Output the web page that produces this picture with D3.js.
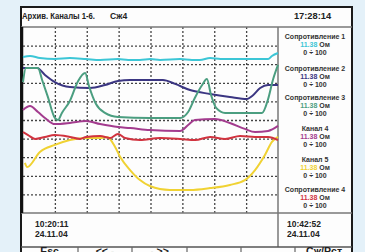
<!DOCTYPE html>
<html><head><meta charset="utf-8">
<script src="https://cdn.jsdelivr.net/npm/d3@7"></script>
<style>
html,body{margin:0;padding:0;background:#e4f1f9;}
svg{display:block;font-family:"Liberation Sans",Arial,sans-serif;}
</style></head>
<body>
<script>
// ---- data (t in grid divisions 0..8, v in 0..100) ----
const titleMain = "Архив. Каналы 1-6.";
const titleMode = "Сж4";
const clock = "17:28:14";
const startTime = ["10:20:11", "24.11.04"];
const endTime = ["10:42:52", "24.11.04"];
const buttons = ["Esc", "<< -", "- >>", "\u2190", "\u2192", "Сж/Рст"];
const channelNames = ["Сопротивление 1", "Сопротивление 2", "Сопротивление 3", "Канал 4", "Канал 5", "Сопротивление 4"];
const channelValues = ["11.38", "11.38", "11.38", "11.38", "11.38", "11.38"];
const channelUnit = "Ом";
const channelRange = "0 ÷ 100";
const channelColors = ["#3cc6d6", "#3b3682", "#4b9e80", "#a33c8e", "#f0d233", "#d1333f"];

const cyan = [[0,83.9],[0.22,84.4],[0.53,83.3],[1.0,82.8],[1.47,83.3],[1.98,82.8],[2.42,82.3],[2.98,82.8],[3.3,82.3],[3.67,82.3],[4.0,82.8],[4.3,82.3],[4.93,82.8],[5.3,82.3],[5.55,82.3],[5.87,83.3],[6.2,82.8],[6.49,82.8],[7.12,82.8],[7.69,82.8],[7.81,84.4],[8,86.0]];
const navy = [[0,78.0],[0.44,78.0],[0.69,74.2],[1.0,70.4],[1.47,67.7],[2.1,67.2],[2.57,68.8],[2.98,71.0],[3.36,71.5],[4.39,71.5],[4.77,69.4],[5.24,66.1],[5.87,64.0],[6.49,62.4],[7.03,61.3],[7.19,62.9],[7.44,67.2],[7.69,68.8],[8,68.8]];
const green = [[0,70.4],[0.09,78.0],[0.47,78.0],[0.6,71.5],[0.78,62.4],[1.0,51.1],[1.1,50.0],[1.22,53.8],[1.47,60.2],[1.73,71.0],[1.95,75.3],[2.07,68.3],[2.29,58.6],[2.57,53.8],[2.98,51.6],[3.98,51.1],[4.93,51.1],[5.18,54.3],[5.39,61.8],[5.62,68.8],[5.77,72.0],[5.9,63.4],[6.06,56.5],[6.34,53.8],[7.5,53.8],[7.69,61.3],[7.84,71.5],[8,79.6]];
const magenta = [[0,55.4],[0.22,57.5],[0.47,54.3],[0.69,51.1],[1.0,47.8],[1.47,48.4],[1.98,49.5],[2.42,47.8],[2.98,46.2],[3.36,45.7],[3.98,44.6],[4.93,44.1],[5.18,47.3],[5.39,50.0],[6.02,50.5],[6.49,48.4],[6.96,45.2],[7.28,43.5],[7.69,44.1],[8,46.8]];
const red = [[0,43.5],[0.16,41.9],[0.38,39.8],[0.69,40.9],[1.0,41.9],[1.47,40.9],[1.79,39.8],[1.98,40.9],[2.42,41.4],[2.73,40.3],[2.98,42.5],[3.2,40.3],[3.67,39.2],[4.3,40.3],[4.93,39.8],[5.4,39.2],[5.87,40.9],[6.34,39.8],[6.81,41.4],[7.28,40.9],[7.69,40.9],[8,39.2]];
const yellow = [[0.06,26.9],[0.13,24.7],[0.53,32.8],[1.0,36.6],[1.47,39.2],[1.98,40.3],[2.42,40.3],[2.64,40.9],[2.89,35.5],[3.05,30.1],[3.36,23.1],[3.67,17.7],[3.98,14.5],[4.61,12.4],[5.24,12.4],[5.87,13.4],[6.49,15.1],[6.96,17.7],[7.28,23.1],[7.59,31.2],[7.81,38.2],[8,40.9]];
const seriesList = [cyan, navy, green, magenta, yellow, red];
const seriesColors = ["#3cc6d6", "#3b3682", "#4b9e80", "#a33c8e", "#f0d233", "#d1333f"];
const xTicks = [0,1,2,3,4,5,6,7,8];
const yTicks = [0,10,20,30,40,50,60,70,80,90,100];

// ---- layout ----
const W = 365, H = 252;
const frame = {l: 21, t: 7, r: 352, b: 262};
const plot = {l: 23, t: 27, r: 278, b: 213};
const timeBarB = 247;

const svg = d3.select("body").append("svg").attr("width", W).attr("height", H);
svg.append("rect").attr("width", W).attr("height", H).attr("fill", "#e4f1f9");
svg.append("rect").attr("x", frame.l).attr("y", frame.t).attr("width", frame.r - frame.l).attr("height", frame.b - frame.t)
  .attr("fill", "#fdfdfd").attr("stroke", "#1a1a1a").attr("stroke-width", 2);

const x = d3.scaleLinear().domain([0, 8]).range([plot.l, plot.r]);
const y = d3.scaleLinear().domain([0, 100]).range([plot.b, plot.t]);

// grid via axes
const gx = svg.append("g").attr("transform", `translate(0,${plot.b})`)
  .call(d3.axisBottom(x).tickValues(xTicks.slice(1, -1)).tickSize(-(plot.b - plot.t)).tickFormat(""));
const gy = svg.append("g").attr("transform", `translate(${plot.l},0)`)
  .call(d3.axisLeft(y).tickValues(yTicks.slice(1, -1)).tickSize(-(plot.r - plot.l)).tickFormat(""));
[gx, gy].forEach(g => {
  g.select(".domain").remove();
  g.selectAll(".tick line").attr("stroke", "#444").attr("stroke-width", 1.3).attr("stroke-dasharray", "2,2");
});

// structural lines
const ln = (x1, y1, x2, y2, w, c) => svg.append("line").attr("x1", x1).attr("y1", y1).attr("x2", x2).attr("y2", y2)
  .attr("stroke", c || "#555").attr("stroke-width", w || 1.5);
ln(frame.l, plot.t, frame.r, plot.t, 1.5, "#777");
ln(frame.l, plot.b, frame.r, plot.b, 1.5, "#777");
ln(plot.r, plot.t, plot.r, timeBarB, 1.5, "#777");
ln(frame.l, timeBarB, frame.r, timeBarB, 1.5, "#555");
ln(plot.l - 1, plot.t, plot.l - 1, plot.b, 2.5, "#111");

// series
const line = d3.line().x(d => x(d[0])).y(d => y(d[1])).curve(d3.curveMonotoneX);
seriesList.forEach((s, i) => {
  svg.append("path").datum(s).attr("d", line).attr("fill", "none")
    .attr("stroke", seriesColors[i]).attr("stroke-width", 2).attr("stroke-linejoin", "round");
});

// header
svg.append("text").attr("x", 22).attr("y", 19).attr("font-size", 8.6).attr("font-weight", "bold")
  .attr("fill", "#222").attr("textLength", 73).attr("lengthAdjust", "spacingAndGlyphs").text(titleMain);
svg.append("text").attr("x", 110).attr("y", 19).attr("font-size", 8.6).attr("font-weight", "bold")
  .attr("fill", "#222").text(titleMode);
svg.append("text").attr("x", 312.5).attr("y", 19).attr("text-anchor", "middle").attr("font-size", 9.3)
  .attr("font-weight", "bold").attr("fill", "#222").text(clock);

// right panel
const panelCx = 315;
const blockTops = [36, 68, 97, 128, 159, 189];
channelNames.forEach((n, i) => {
  const cy = blockTops[i];
  svg.append("text").attr("x", panelCx).attr("y", cy + 2.5).attr("text-anchor", "middle").attr("font-size", 7)
    .attr("font-weight", "bold").attr("fill", "#333").text(n);
  const t = svg.append("text").attr("x", panelCx).attr("y", cy + 11).attr("text-anchor", "middle")
    .attr("font-size", 7).attr("font-weight", "bold");
  t.append("tspan").attr("fill", channelColors[i]).text(channelValues[i]);
  t.append("tspan").attr("fill", "#333").text(" " + channelUnit);
  svg.append("text").attr("x", panelCx).attr("y", cy + 19).attr("text-anchor", "middle").attr("font-size", 7)
    .attr("font-weight", "bold").attr("fill", "#333").text(channelRange);
});

// time bar
[[35, startTime], [287, endTime]].forEach(([tx, lines]) => {
  lines.forEach((s, j) => svg.append("text").attr("x", tx).attr("y", 227 + j * 10).attr("font-size", 8.5)
    .attr("font-weight", "bold").attr("fill", "#222").text(s));
});

// buttons
const seps = [78, 132, 187, 241, 295];
seps.forEach(sx => ln(sx, timeBarB, sx, H, 1.2, "#666"));
const centers = [49.5, 105, 159.5, 214, 268, 324];
buttons.forEach((b, i) => {
  svg.append("text").attr("x", centers[i]).attr("y", 255).attr("text-anchor", "middle").attr("font-size", 10.5)
    .attr("font-weight", "bold").attr("fill", "#222").text(b);
});
</script>
</body></html>
